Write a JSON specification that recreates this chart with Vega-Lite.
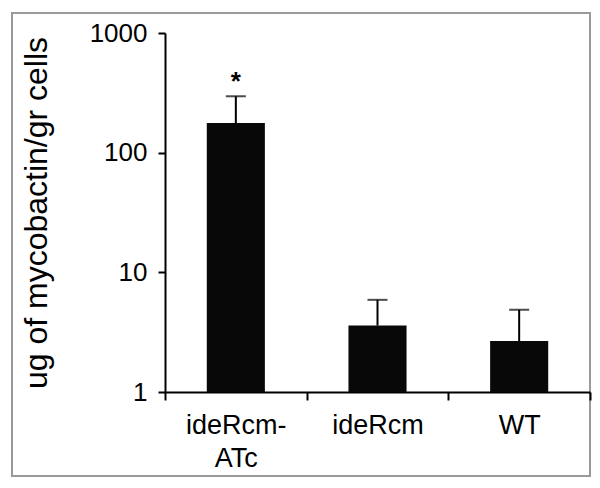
{
  "$schema": "https://vega.github.io/schema/vega-lite/v6.json",
  "width": 578,
  "height": 463,
  "autosize": {"type": "none"},
  "padding": {"left": 12, "top": 13, "right": 10, "bottom": 12},
  "background": "white",
  "config": {
    "view": {"stroke": "#9a9a9a", "strokeWidth": 2},
    "font": "Liberation Sans"
  },
  "data": {
    "values": [
      {"strain": "ideRcm-ATc", "mean": 177, "upper": 296, "sig": "*"},
      {"strain": "ideRcm", "mean": 3.59, "upper": 5.89, "sig": ""},
      {"strain": "WT", "mean": 2.67, "upper": 4.86, "sig": ""}
    ]
  },
  "encoding": {
    "x": {
      "field": "strain",
      "type": "nominal",
      "sort": null,
      "scale": {"range": [153, 578], "paddingInner": 0, "paddingOuter": 0},
      "axis": {
        "orient": "bottom",
        "offset": -84,
        "tickBand": "extent",
        "labelAngle": 0,
        "labelFontSize": 27,
        "labelColor": "black",
        "labelLineHeight": 33,
        "labelPadding": 12,
        "tickSize": 8,
        "tickWidth": 2,
        "tickColor": "black",
        "domainWidth": 2,
        "domainColor": "black",
        "title": null,
        "labelExpr": "datum.value == 'ideRcm-ATc' ? ['ideRcm-', 'ATc'] : datum.label"
      }
    }
  },
  "layer": [
    {
      "mark": {"type": "bar", "color": "#080808", "width": {"band": 0.41}},
      "encoding": {
        "y": {
          "field": "mean",
          "type": "quantitative",
          "title": "ug of mycobactin/gr cells",
          "scale": {"type": "log", "domain": [1, 1000], "range": [379, 20]},
          "axis": {
            "orient": "left",
            "offset": -153,
            "values": [1, 10, 100, 1000],
            "format": "d",
            "grid": false,
            "labelFontSize": 26,
            "labelColor": "black",
            "labelPadding": 11,
            "tickSize": 7,
            "tickWidth": 2,
            "tickColor": "black",
            "domainWidth": 2,
            "domainColor": "black",
            "titleFontSize": 32,
            "titleFontWeight": "normal",
            "titleColor": "black",
            "titlePadding": 36
          }
        },
        "y2": {"datum": 1}
      }
    },
    {
      "mark": {"type": "rule", "strokeWidth": 2, "color": "black"},
      "encoding": {
        "y": {"field": "mean", "type": "quantitative", "title": "ug of mycobactin/gr cells"},
        "y2": {"field": "upper"}
      }
    },
    {
      "mark": {"type": "tick", "size": 20, "thickness": 2, "color": "black"},
      "encoding": {
        "y": {"field": "upper", "type": "quantitative", "title": "ug of mycobactin/gr cells"}
      }
    },
    {
      "mark": {"type": "text", "fontSize": 26, "fontWeight": "bold", "baseline": "alphabetic", "dy": -6, "color": "black"},
      "encoding": {
        "y": {"field": "upper", "type": "quantitative", "title": "ug of mycobactin/gr cells"},
        "text": {"field": "sig"}
      }
    }
  ]
}
